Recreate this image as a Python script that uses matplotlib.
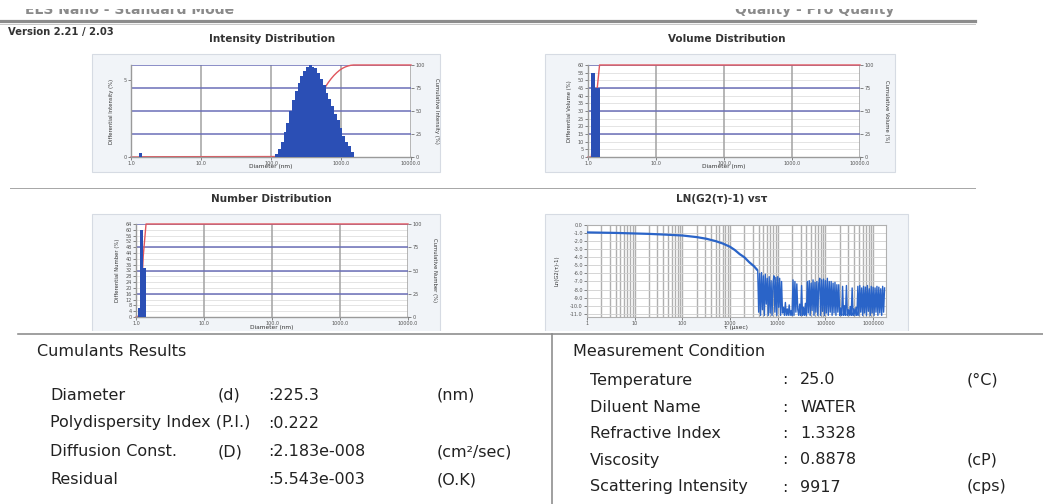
import numpy as np
import matplotlib
matplotlib.use("Agg")
import matplotlib.pyplot as plt
from matplotlib.lines import Line2D
from matplotlib.patches import Rectangle
from matplotlib.ticker import LogLocator, NullLocator

plt.rcParams['font.family'] = ['DejaVu Sans']

W, H = 1043, 504

# ---------------- data ----------------
size_ticks = [1.0, 10.0, 100.0, 1000.0, 10000.0]
size_labels = ["1.0", "10.0", "100.0", "1000.0", "10000.0"]

# intensity distribution, bins of 0.04 decade
int_diam = [1.35, 120.2, 131.8, 144.5, 158.5, 173.8, 190.5, 208.9, 229.1, 251.2, 275.4,
            302.0, 331.1, 363.1, 398.1, 436.5, 478.6, 524.8, 575.4, 631.0, 691.8,
            758.6, 831.8, 912.0, 1000.0, 1096.0, 1202.0, 1318.0, 1445.0]
int_pct = [0.25, 0.2, 0.5, 1.0, 1.6, 2.2, 3.0, 3.7, 4.3, 4.8, 5.3, 5.6, 5.9, 6.0, 5.9,
           5.8, 5.5, 5.1, 4.7, 4.2, 3.8, 3.3, 2.8, 2.4, 1.9, 1.4, 1.0, 0.7, 0.3]
int_yticks = [0, 5]

# volume distribution
vol_diam = [1.20, 1.38]
vol_pct = [55.0, 45.0]
vol_yticks = [0, 5, 10, 15, 20, 25, 30, 35, 40, 45, 50, 55, 60]

# number distribution
num_diam = [1.11, 1.22, 1.34]
num_pct = [6.0, 60.0, 34.0]
num_yticks = [0, 4, 8, 12, 16, 20, 24, 28, 32, 36, 40, 44, 48, 52, 56, 60, 64]

cum_ticks = [0, 25, 50, 75, 100]

# LN(G2(t)-1) vs t : smooth decay part
lag_log_smooth = [0.0, 0.3, 0.6, 1.0, 1.3, 1.6, 2.0, 2.3, 2.5, 2.7, 2.85, 3.0,
                  3.1, 3.2, 3.3, 3.4, 3.5, 3.56]
ln_smooth = [-0.92, -0.95, -0.98, -1.05, -1.1, -1.18, -1.3, -1.5, -1.7, -2.0, -2.3, -2.7,
             -3.1, -3.6, -4.0, -4.6, -5.1, -5.5]

# noisy tail
lag_log_noise = [
    3.58, 3.60, 3.62, 3.64, 3.66, 3.68, 3.70, 3.72, 3.74, 3.76,
    3.78, 3.80, 3.82, 3.84, 3.86, 3.88, 3.90, 3.92, 3.94, 3.96,
    3.98, 4.00, 4.02, 4.04, 4.06, 4.08, 4.10, 4.12, 4.14, 4.16,
    4.18, 4.20, 4.22, 4.24, 4.26, 4.28, 4.30, 4.32, 4.34, 4.36,
    4.38, 4.40, 4.42, 4.44, 4.46, 4.48, 4.50, 4.52, 4.54, 4.56,
    4.58, 4.60, 4.62, 4.64, 4.66, 4.68, 4.70, 4.72, 4.74, 4.76,
    4.78, 4.80, 4.82, 4.84, 4.86, 4.88, 4.90, 4.92, 4.94, 4.96,
    4.98, 5.00, 5.02, 5.04, 5.06, 5.08, 5.10, 5.12, 5.14, 5.16,
    5.18, 5.20, 5.22, 5.24, 5.26, 5.28, 5.30, 5.32, 5.34, 5.36,
    5.38, 5.40, 5.42, 5.44, 5.46, 5.48, 5.50, 5.52, 5.54, 5.56,
    5.58, 5.60, 5.62, 5.64, 5.66, 5.68, 5.70, 5.72, 5.74, 5.76,
    5.78, 5.80, 5.82, 5.84, 5.86, 5.88, 5.90, 5.92, 5.94, 5.96,
    5.98, 6.00, 6.02, 6.04, 6.06, 6.08, 6.10, 6.12, 6.14, 6.16,
    6.18, 6.20, 6.22, 6.24]
ln_noise = [
    -5.6, -10.8, -6.0, -11.2, -5.9, -10.5, -6.3, -11.2, -6.1, -9.8,
    -6.6, -11.2, -6.4, -10.9, -6.9, -11.2, -7.2,
    -6.3, -10.8, -6.5, -11.2, -6.4, -10.2, -6.6, -11.2, -7.0, -10.9,
    -10.2, -11.2, -9.6, -11.2, -10.4, -11.2, -9.9, -11.2, -10.6, -11.2,
    -6.8, -11.2, -7.0, -10.8, -7.3,
    -10.5, -11.2, -9.8, -11.2, -7.5, -11.2, -10.2, -11.2, -9.7, -11.2,
    -7.0, -10.9, -6.9, -11.2, -7.2, -10.6, -6.8, -11.2, -7.1, -10.8, -7.0, -11.2, -7.3,
    -6.6, -11.2, -6.8, -10.7, -6.7, -11.2, -6.9, -10.9, -6.6, -11.2, -7.0, -10.8,
    -7.0, -11.2, -7.2, -10.9, -7.1, -11.2, -7.4, -10.8,
    -7.4, -11.2, -10.3, -11.2, -7.6, -11.2, -10.0, -11.2, -7.5, -11.2,
    -10.5, -11.2, -10.1, -11.2, -7.8, -11.2, -10.4, -11.2, -10.2, -11.2,
    -7.6, -11.2, -7.5, -10.8, -7.8, -11.2, -7.6, -10.9, -7.7, -11.2,
    -7.5, -10.7, -7.9, -11.2, -7.6, -10.9, -7.7, -11.2, -7.8, -10.8,
    -7.6, -11.2, -7.7, -10.9, -7.9, -11.2, -7.6, -10.8, -7.8]

lag_ticks = [1, 10, 100, 1000, 10000, 100000, 1000000]
lag_labels = ["1", "10", "100", "1000", "10000", "100000", "1000000"]
ln_yticks = [0, -1, -2, -3, -4, -5, -6, -7, -8, -9, -10, -11]

cumulants = [("Diameter", "(d)", ":225.3", "(nm)"),
             ("Polydispersity Index (P.I.)", "", ":0.222", ""),
             ("Diffusion Const.", "(D)", ":2.183e-008", "(cm²/sec)"),
             ("Residual", "", ":5.543e-003", "(O.K)")]
conditions = [("Temperature", "25.0", "(°C)"),
              ("Diluent Name", "WATER", ""),
              ("Refractive Index", "1.3328", ""),
              ("Viscosity", "0.8878", "(cP)"),
              ("Scattering Intensity", "9917", "(cps)")]

# ---------------- styling ----------------
bar_col = "#2b4fb5"
red_col = "#e0555c"
hblue = "#6b6fb8"
vgrid = "#a9a9a9"
panel_fc = "#f1f4f8"
tick_col = "#555555"
text_col = "#222222"


def fbox(x0, y0, x1, y1):
    return [x0 / W, 1 - y1 / H, (x1 - x0) / W, (y1 - y0) / H]


def fx(x):
    return x / W


def fy(y):
    return 1 - y / H


fig = plt.figure(figsize=(W / 100, H / 100), dpi=100)


def hline(x0, x1, y, color, lw_px, z=6):
    fig.add_artist(Line2D([fx(x0), fx(x1)], [fy(y), fy(y)], color=color,
                          lw=lw_px * 0.72, zorder=z))


def panel_box(x0, y0, x1, y1):
    fig.add_artist(Rectangle((fx(x0), fy(y1)), (x1 - x0) / W, (y1 - y0) / H,
                             transform=fig.transFigure, fc=panel_fc, ec="#d6dbe3",
                             lw=0.8, zorder=-1))


def tiny(ax):
    ax.tick_params(labelsize=3.5, colors=tick_col, length=2, width=0.5, pad=1)


def size_panel(box, diam, pct, bin_dex, ymax, yticks, fine_rows, what):
    x0, y0, x1, y1 = box
    ax = fig.add_axes(fbox(*box))
    ax.set_xscale("log")
    ax.set_xlim(size_ticks[0], size_ticks[-1])
    ax.set_ylim(0, ymax)
    for s in ax.spines.values():
        s.set_visible(False)
    for side in ("left", "bottom"):
        ax.spines[side].set_visible(True)
        ax.spines[side].set_color("#9a9a9a")
        ax.spines[side].set_linewidth(1.0)
    ax.set_xticks(size_ticks, size_labels)
    ax.xaxis.set_minor_locator(NullLocator())
    ax.set_yticks(yticks, [f"{t:g}" for t in yticks])
    tiny(ax)
    if fine_rows:
        for t in yticks:
            ax.axhline(t, color="#d9d9d9", lw=0.5, zorder=1)
    for t in size_ticks:
        ax.axvline(t, color=vgrid, lw=1.2, zorder=1.2)
    for q in (0.25, 0.5, 0.75, 1.0):
        ax.axhline(ymax * q, color=hblue, lw=1.1, zorder=1.4)

    step = 10 ** (bin_dex / 2)
    d = np.array(diam)
    left, right = d / step, d * step
    ax.bar(left, pct, width=right - left, align="edge", color=bar_col, lw=0, zorder=3)

    cum = np.cumsum(pct) / np.sum(pct) * 100
    cx = np.concatenate([[size_ticks[0], left[0]], right, [size_ticks[-1]]])
    cy = np.concatenate([[0, 0], cum, [100]])
    ax.plot(cx, cy * ymax / 100, color=red_col, lw=1.0, zorder=2, clip_on=False)

    tw = ax.twinx()
    tw.set_ylim(0, 100)
    tw.set_yticks(cum_ticks, [str(t) for t in cum_ticks])
    for s in tw.spines.values():
        s.set_visible(False)
    tiny(tw)

    fig.text(fx(x0 - 19), fy((y0 + y1) / 2), f"Differential {what} (%)", rotation=90,
             fontsize=3.8, color="#333333", ha="center", va="center")
    fig.text(fx(x1 + 26), fy((y0 + y1) / 2), f"Cumulative {what} (%)", rotation=270,
             fontsize=3.8, color="#333333", ha="center", va="center")
    fig.text(fx((x0 + x1) / 2), fy(y1 + 10), "Diameter (nm)",
             fontsize=4.2, color="#333333", ha="center", va="center")
    return ax


# ---------------- header (cut off at the top of the page) ----------------
fig.text(fx(25), fy(14), "ELS Nano - Standard Mode", fontsize=10, fontweight="bold",
         color="#8a8a8a", va="baseline", zorder=3)
fig.text(fx(735), fy(14), "Quality - Pro Quality", fontsize=10, fontweight="bold",
         color="#8a8a8a", va="baseline", zorder=3)
fig.add_artist(Rectangle((0, fy(9)), 1, 9 / H, transform=fig.transFigure,
                         fc="white", ec="none", zorder=10))
hline(0, 975, 21, "#8c8c8c", 3.2)
hline(0, 975, 24, "#c8c8c8", 1.0)
fig.text(fx(8), fy(32), "Version 2.21 / 2.03", fontsize=7.2, fontweight="bold",
         color="#333333", va="center")
hline(10, 975, 188, "#a8a8a8", 1.0)

# ---------------- distribution panels ----------------
panel_box(92, 54, 440, 172)
panel_box(545, 54, 895, 172)
panel_box(92, 214, 440, 332)
panel_box(545, 214, 908, 332)

fig.text(fx(272), fy(39), "Intensity Distribution", fontsize=7.5, fontweight="bold",
         color="#333333", ha="center", va="center")
fig.text(fx(727), fy(39), "Volume Distribution", fontsize=7.5, fontweight="bold",
         color="#333333", ha="center", va="center")
fig.text(fx(271), fy(199), "Number Distribution", fontsize=7.5, fontweight="bold",
         color="#333333", ha="center", va="center")
fig.text(fx(722), fy(199), "LN(G2(τ)-1) vsτ", fontsize=7.5, fontweight="bold",
         color="#333333", ha="center", va="center")

size_panel((131, 65, 411, 157), int_diam, int_pct, 0.04, 6.0, int_yticks, False, "Intensity")
size_panel((588, 65, 860, 157), vol_diam, vol_pct, 0.06, 60.0, vol_yticks, True, "Volume")
size_panel((136, 224, 408, 317), num_diam, num_pct, 0.041, 64.0, num_yticks, True, "Number")

# ---------------- correlation function panel ----------------
ax = fig.add_axes(fbox(587, 225, 886, 317))
ax.set_xscale("log")
ax.set_xlim(1, 10 ** 6.27)
ax.set_ylim(-11.4, 0)
ax.set_xticks(lag_ticks, lag_labels)
ax.xaxis.set_minor_locator(LogLocator(base=10, subs=range(2, 10), numticks=20))
ax.set_yticks(ln_yticks, [f"{t:.1f}" for t in ln_yticks])
ax.grid(which="both", axis="x", color="#b0b0b0", lw=1.0, zorder=1)
ax.grid(which="major", axis="y", color="#cfcfcf", lw=0.6, zorder=1)
ax.tick_params(which="minor", length=0)
tiny(ax)
for s in ax.spines.values():
    s.set_color("#b0b0b0")
    s.set_linewidth(0.8)
ax.plot(10 ** np.array(lag_log_smooth), ln_smooth, color="#2a64c8", lw=1.6, zorder=3)
ax.plot(10 ** np.array([lag_log_smooth[-1]] + lag_log_noise), [ln_smooth[-1]] + ln_noise,
        color="#2a64c8", lw=1.0, zorder=3)
fig.text(fx(557), fy(271), "Ln(G2(τ)-1)", rotation=90, fontsize=3.8, color="#333333",
         ha="center", va="center")
fig.text(fx(736), fy(327), "τ (μsec)", fontsize=4.2, color="#333333",
         ha="center", va="center")

# ---------------- results tables ----------------
fig.add_artist(Rectangle((0, 0), 1, fy(331), transform=fig.transFigure,
                         fc="white", ec="none", zorder=5))
hline(18, 1043, 334, "#8a8a8a", 1.6)
fig.add_artist(Line2D([fx(552), fx(552)], [fy(334), 0], color="#8a8a8a",
                      lw=1.6 * 0.72, zorder=6))

fs = 11.5
fig.text(fx(37), fy(352), "Cumulants Results", fontsize=fs, color=text_col,
         va="center", zorder=7)
for (name, sym, val, unit), y in zip(cumulants, [395, 423, 452, 480]):
    fig.text(fx(50), fy(y), name, fontsize=fs, color=text_col, va="center", zorder=7)
    fig.text(fx(218), fy(y), sym, fontsize=fs, color=text_col, va="center", zorder=7)
    fig.text(fx(268), fy(y), val, fontsize=fs, color=text_col, va="center", zorder=7)
    fig.text(fx(437), fy(y), unit, fontsize=fs, color=text_col, va="center", zorder=7)

fig.text(fx(573), fy(351), "Measurement Condition", fontsize=fs, color=text_col,
         va="center", zorder=7)
for (name, val, unit), y in zip(conditions, [380, 407, 433, 460, 487]):
    fig.text(fx(590), fy(y), name, fontsize=fs, color=text_col, va="center", zorder=7)
    fig.text(fx(782), fy(y), ":", fontsize=fs, color=text_col, va="center", zorder=7)
    fig.text(fx(800), fy(y), val, fontsize=fs, color=text_col, va="center", zorder=7)
    fig.text(fx(967), fy(y), unit, fontsize=fs, color=text_col, va="center", zorder=7)

fig.savefig("out.png", dpi=100)
